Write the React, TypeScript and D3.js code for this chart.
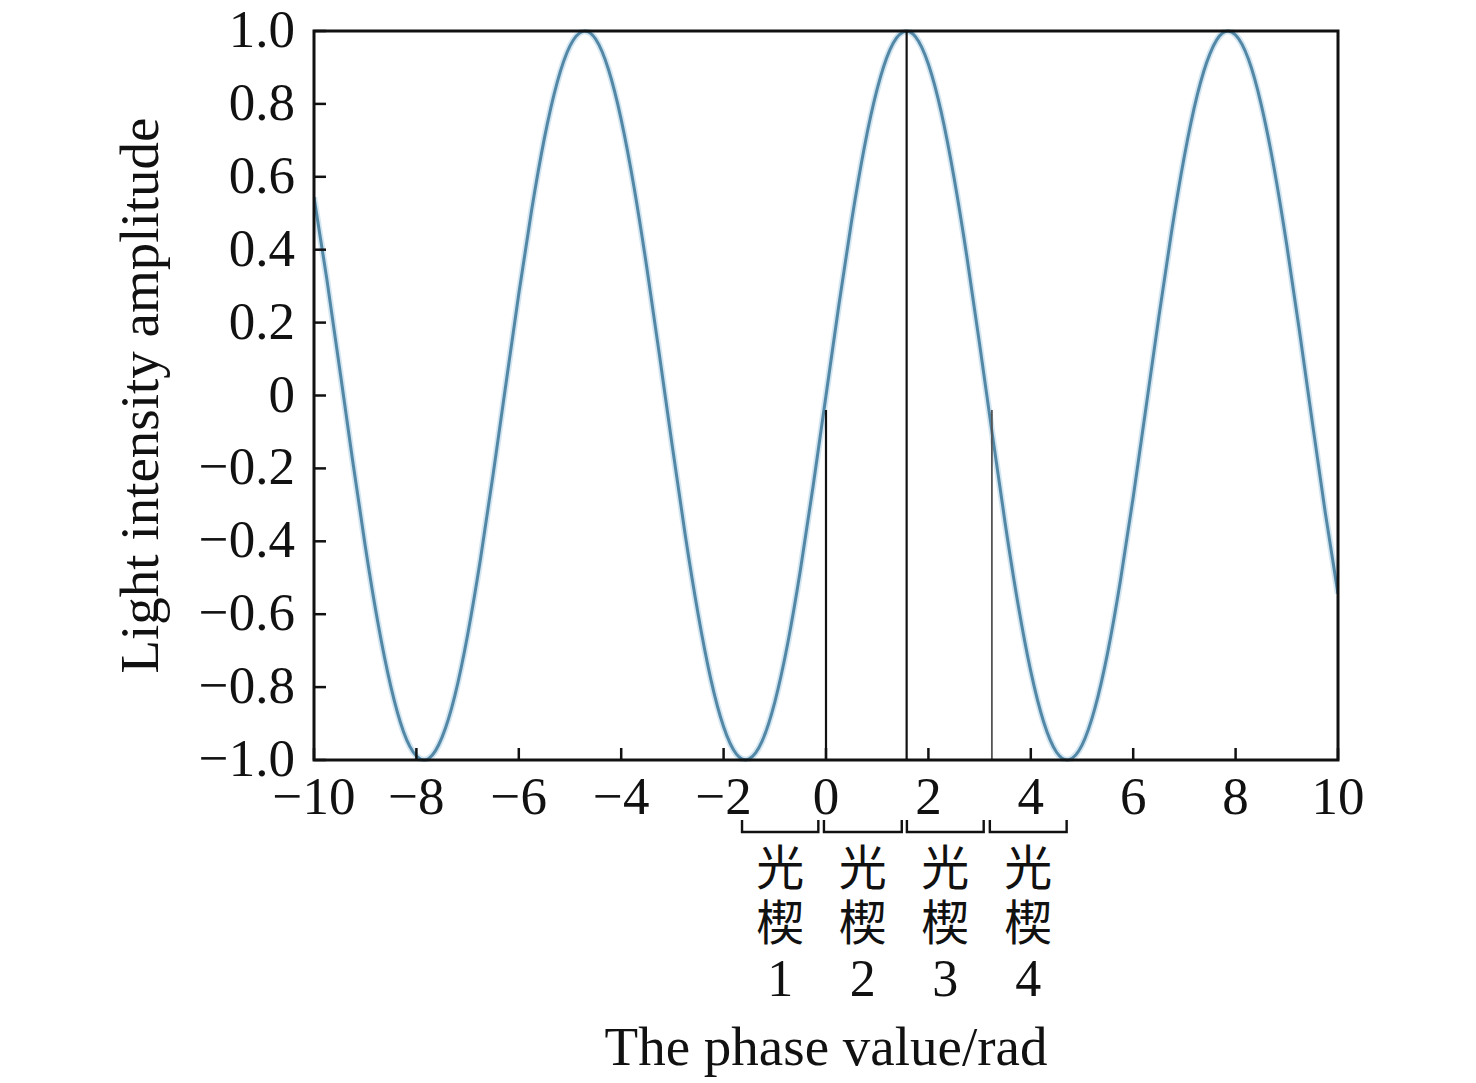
import React from "react";
import * as d3 from "d3";

const phaseX = [
  -10, -9.75, -9.5, -9.25, -9, -8.75, -8.5, -8.25, -8, -7.75, -7.5, -7.25, -7, -6.75, -6.5, -6.25,
  -6, -5.75, -5.5, -5.25, -5, -4.75, -4.5, -4.25, -4, -3.75, -3.5, -3.25, -3, -2.75, -2.5, -2.25,
  -2, -1.75, -1.5, -1.25, -1, -0.75, -0.5, -0.25, 0, 0.25, 0.5, 0.75, 1, 1.25, 1.5, 1.75,
  2, 2.25, 2.5, 2.75, 3, 3.25, 3.5, 3.75, 4, 4.25, 4.5, 4.75, 5, 5.25, 5.5, 5.75,
  6, 6.25, 6.5, 6.75, 7, 7.25, 7.5, 7.75, 8, 8.25, 8.5, 8.75, 9, 9.25, 9.5, 9.75, 10,
];
const amplitude = [
  0.544, 0.32, 0.075, -0.174, -0.412, -0.625, -0.798, -0.923, -0.989, -0.995, -0.938, -0.824, -0.657, -0.45, -0.215, 0.033,
  0.279, 0.508, 0.706, 0.859, 0.959, 0.999, 0.978, 0.895, 0.757, 0.572, 0.351, 0.108, -0.141, -0.382, -0.598, -0.778,
  -0.909, -0.984, -0.997, -0.949, -0.841, -0.682, -0.479, -0.247, 0, 0.247, 0.479, 0.682, 0.841, 0.949, 0.997, 0.984,
  0.909, 0.778, 0.598, 0.382, 0.141, -0.108, -0.351, -0.572, -0.757, -0.895, -0.978, -0.999, -0.959, -0.859, -0.706, -0.508,
  -0.279, -0.033, 0.215, 0.45, 0.657, 0.824, 0.938, 0.995, 0.989, 0.923, 0.798, 0.625, 0.412, 0.174, -0.075, -0.32, -0.544,
];

const xTicks = [-10, -8, -6, -4, -2, 0, 2, 4, 6, 8, 10];
const yTicks = [1.0, 0.8, 0.6, 0.4, 0.2, 0, -0.2, -0.4, -0.6, -0.8, -1.0];

const markerX = [0, 1.575, 3.24];
const markerTop = [-0.04, 1.0, -0.04];

const bracketStart = [-1.64, -0.04, 1.58, 3.2];
const bracketEnd = [-0.15, 1.48, 3.08, 4.7];
const wedgeNumbers = ["1", "2", "3", "4"];
const wedgeName = "光楔";

const xTitle = "The phase value/rad";
const yTitle = "Light intensity amplitude";

const W = 1476;
const H = 1083;
const left = 314, right = 1338, top = 31, bottom = 760;

const SERIF = "'Liberation Serif', 'DejaVu Serif', serif";
const CJK = "'Noto Sans CJK SC', 'Noto Sans CJK JP', sans-serif";

const fmtX = (v: number) => (v < 0 ? "\u2212" + Math.abs(v) : String(v));
const fmtY = (v: number) => {
  if (v === 0) return "0";
  const s = Math.abs(v).toFixed(1);
  return v < 0 ? "\u2212" + s : s;
};

export default function App() {
  const x = d3.scaleLinear().domain([-10, 10]).range([left, right]);
  const y = d3.scaleLinear().domain([-1, 1]).range([bottom, top]);
  const pts = phaseX.map((v, i) => [v, amplitude[i]] as [number, number]);
  const line = d3
    .line<[number, number]>()
    .x((d) => x(d[0]))
    .y((d) => y(d[1]))
    .curve(d3.curveNatural);
  const path = line(pts) || "";

  return (
    <svg
      width={W}
      height={H}
      viewBox={`0 0 ${W} ${H}`}
      style={{ position: "absolute", left: 0, top: 0, background: "#fff" }}
    >
      <defs>
        <clipPath id="plotClip">
          <rect x={left} y={top - 2} width={right - left} height={bottom - top + 4} />
        </clipPath>
      </defs>
      <rect x={0} y={0} width={W} height={H} fill="#fff" />
      <g clipPath="url(#plotClip)">
        <path d={path} fill="none" stroke="#d3e6f1" strokeWidth={6.5} />
        <path d={path} fill="none" stroke="#5287a6" strokeWidth={3} />
      </g>
      {markerX.map((mx, i) => (
        <line
          key={"m" + i}
          x1={x(mx)}
          x2={x(mx)}
          y1={y(-1)}
          y2={y(markerTop[i])}
          stroke={i === 2 ? "#555" : "#111"}
          strokeWidth={i === 2 ? 1.8 : 2.2}
        />
      ))}
      {xTicks.map((t) => (
        <line key={"xt" + t} x1={x(t)} x2={x(t)} y1={bottom} y2={bottom - 12} stroke="#111" strokeWidth={2.5} />
      ))}
      {yTicks.map((t) => (
        <line key={"yt" + t} x1={left} x2={left + 12} y1={y(t)} y2={y(t)} stroke="#111" strokeWidth={2.5} />
      ))}
      <rect x={left} y={top} width={right - left} height={bottom - top} fill="none" stroke="#111" strokeWidth={3} />
      {xTicks.map((t) => (
        <text key={"xl" + t} x={x(t)} y={814} textAnchor="middle" fontFamily={SERIF} fontSize={53} fill="#111">
          {fmtX(t)}
        </text>
      ))}
      {yTicks.map((t) => (
        <text key={"yl" + t} x={295} y={y(t) + 16} textAnchor="end" fontFamily={SERIF} fontSize={53} fill="#111">
          {fmtY(t)}
        </text>
      ))}
      {bracketStart.map((bs, i) => {
        const x0 = x(bs), x1 = x(bracketEnd[i]);
        const cx = (x0 + x1) / 2;
        return (
          <g key={"b" + i}>
            <path d={`M${x0},820 V832 H${x1} V820`} fill="none" stroke="#111" strokeWidth={2.4} />
            <text
              x={cx}
              y={843}
              style={{ writingMode: "vertical-rl" } as React.CSSProperties}
              letterSpacing={7}
              fontFamily={CJK}
              fontSize={48}
              fill="#111"
            >
              {wedgeName}
            </text>
            <text x={cx} y={996} textAnchor="middle" fontFamily={SERIF} fontSize={52} fill="#111">
              {wedgeNumbers[i]}
            </text>
          </g>
        );
      })}
      <text x={(left + right) / 2} y={1065} textAnchor="middle" fontFamily={SERIF} fontSize={55} fill="#111">
        {xTitle}
      </text>
      <text
        transform={`translate(158, ${(top + bottom) / 2}) rotate(-90)`}
        textAnchor="middle"
        fontFamily={SERIF}
        fontSize={55}
        fill="#111"
      >
        {yTitle}
      </text>
    </svg>
  );
}
